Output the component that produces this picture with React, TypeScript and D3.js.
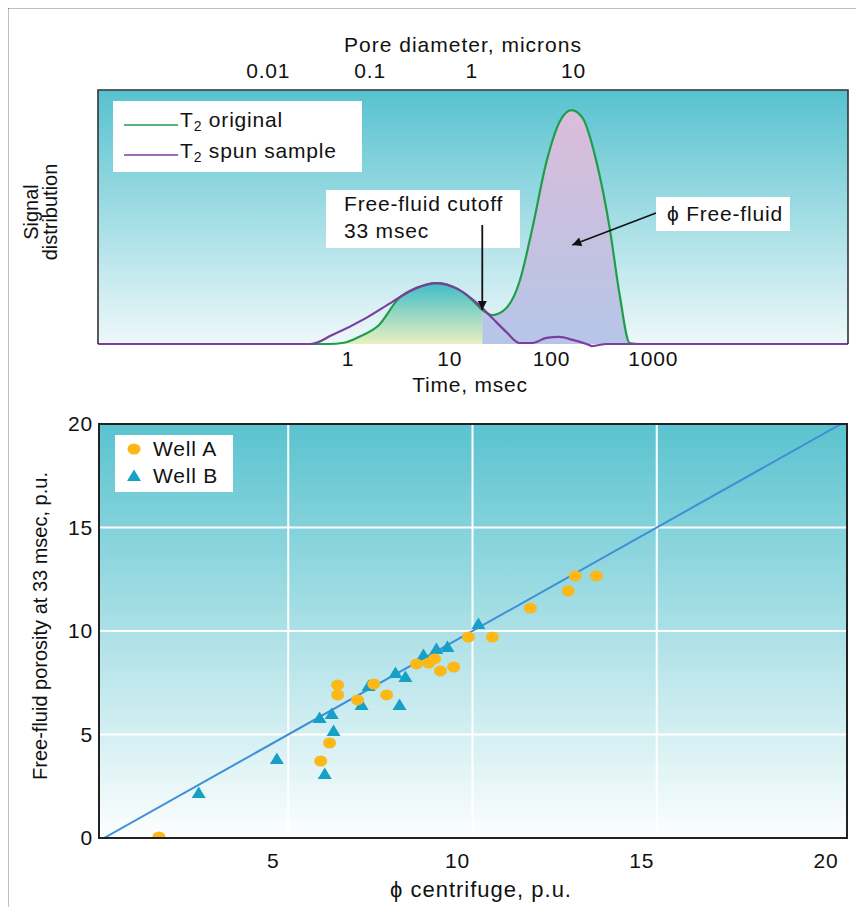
import * as d3 from "d3";

// T2 distributions (time in msec, signal as share of panel height)
const originalTime = [0.0035, 0.65, 0.91, 1.28, 2.02, 3.18, 4.67, 7.36, 11.6, 16.7, 20.9, 26.2, 36.1, 48.4, 65, 89.3, 120, 157, 202, 277, 373, 468, 587, 736, 82000];
const originalSignal = [0, 0, 0.005, 0.028, 0.075, 0.181, 0.22, 0.24, 0.22, 0.173, 0.134, 0.114, 0.142, 0.244, 0.457, 0.717, 0.874, 0.921, 0.89, 0.717, 0.457, 0.193, 0.004, 0, 0];
const spunTime = [0.0035, 0.43, 0.7, 1.5, 2.71, 4.67, 7.53, 12.4, 19.5, 26.2, 36.1, 48.4, 65, 89.3, 120, 162, 221, 250, 348, 82000];
const spunSignal = [0, 0, 0.035, 0.102, 0.165, 0.22, 0.24, 0.213, 0.153, 0.102, 0.047, 0.004, 0.004, 0.024, 0.028, 0.016, 0, -0.008, 0, 0];
const cutoffTime = 20.9;
const timeTicks = [1, 10, 100, 1000];
const poreTicks = [0.01, 0.1, 1, 10];
const msecPerMicron = 16.5;

// lower panel: centrifuge vs NMR free-fluid porosity
const wellAX = [12.79, 13.36, 12.6, 11.57, 9.89, 10.54, 8.48, 8.81, 8.97, 9.13, 9.49, 6.34, 6.34, 7.32, 7.67, 6.88, 6.12, 5.88, 1.49];
const wellAY = [12.66, 12.66, 11.93, 11.11, 9.71, 9.71, 8.41, 8.45, 8.65, 8.07, 8.26, 7.39, 6.91, 7.44, 6.91, 6.67, 4.59, 3.72, 0.05];
const wellBX = [10.16, 8.67, 9.02, 9.32, 7.91, 8.18, 7.18, 6.99, 8.02, 5.85, 6.18, 6.23, 5.99, 4.69, 2.57];
const wellBY = [10.34, 8.84, 9.13, 9.23, 7.97, 7.78, 7.34, 6.43, 6.43, 5.8, 5.99, 5.17, 3.09, 3.82, 2.17];
const scatterTicks = [0, 5, 10, 15, 20];

const font = "'Liberation Sans', Arial, Helvetica, sans-serif";

export default function App() {
  // upper panel
  const top = { left: 98, right: 848, top: 90, bottom: 344 };
  const x = d3.scaleLog().domain([0.0035, 82000]).range([top.left, top.right]);
  const y = d3.scaleLinear().domain([0, 1]).range([top.bottom, top.top]);
  const original = originalTime.map((t, i) => [t, originalSignal[i]] as [number, number]);
  const spun = spunTime.map((t, i) => [t, spunSignal[i]] as [number, number]);
  const line = d3
    .line<[number, number]>()
    .x((d) => x(d[0]))
    .y((d) => y(d[1]))
    .curve(d3.curveMonotoneX);
  const area = d3
    .area<[number, number]>()
    .x((d) => x(d[0]))
    .y0(y(0))
    .y1((d) => y(d[1]))
    .curve(d3.curveMonotoneX);
  const xc = x(cutoffTime);
  const cutoffSignal = originalSignal[originalTime.indexOf(cutoffTime)];

  // lower panel
  const bot = { left: 99, right: 847, top: 424, bottom: 838 };
  const sx = d3.scaleLinear().domain([0, 20]).range([104, 841]);
  const sy = d3.scaleLinear().domain([0, 20]).range([838, 424]);
  const triangle = "M0,-6.5L7,5L-7,5Z";

  // most labels are a touch wide in the original
  const lbl = { fontSize: 21, letterSpacing: 0.8, fill: "#111" };

  return (
    <svg width={864} height={915} style={{ display: "block", margin: "-8px" }} fontFamily={font}>
      <defs>
        <linearGradient id="bgTop" x1="0" y1={top.top} x2="0" y2={top.bottom} gradientUnits="userSpaceOnUse">
          <stop offset="0" stopColor="#57c2cf" />
          <stop offset="1" stopColor="#eef8fa" />
        </linearGradient>
        <linearGradient id="bgBot" x1="0" y1={bot.top} x2="0" y2={bot.bottom} gradientUnits="userSpaceOnUse">
          <stop offset="0" stopColor="#5ac3cf" />
          <stop offset="1" stopColor="#fdfefe" />
        </linearGradient>
        <linearGradient id="fillLeft" x1="0" y1={y(0.24)} x2="0" y2={y(0)} gradientUnits="userSpaceOnUse">
          <stop offset="0" stopColor="#3fbdc9" />
          <stop offset="1" stopColor="#eaf0bf" />
        </linearGradient>
        <linearGradient id="fillRight" x1="0" y1={y(0.92)} x2="0" y2={y(0)} gradientUnits="userSpaceOnUse">
          <stop offset="0" stopColor="#dbbddb" />
          <stop offset="0.5" stopColor="#c8c0e0" />
          <stop offset="1" stopColor="#b6c6e8" />
        </linearGradient>
        <clipPath id="clipTop">
          <rect x={top.left} y={top.top} width={top.right - top.left} height={top.bottom - top.top + 4} />
        </clipPath>
        <clipPath id="clipLeft">
          <rect x={top.left} y={top.top} width={xc - top.left} height={top.bottom - top.top} />
        </clipPath>
        <clipPath id="clipRight">
          <rect x={xc} y={top.top} width={top.right - xc} height={top.bottom - top.top} />
        </clipPath>
        <clipPath id="clipBot">
          <rect x={bot.left} y={bot.top} width={bot.right - bot.left} height={bot.bottom - bot.top} />
        </clipPath>
        <marker id="arrow" viewBox="0 0 10 10" refX="10" refY="5" markerWidth="13" markerHeight="9" markerUnits="userSpaceOnUse" orient="auto">
          <path d="M0,0L10,5L0,10Z" fill="#111" />
        </marker>
      </defs>

      <rect x={7} y={7} width={854} height={920} fill="#fff" stroke="#000" strokeWidth={2.5} />

      {/* upper panel */}
      <text x={463} y={52} textAnchor="middle" {...lbl} letterSpacing={1}>Pore diameter, microns</text>
      {poreTicks.map((d) => (
        <text key={d} x={x(d * msecPerMicron)} y={78} textAnchor="middle" {...lbl}>{d}</text>
      ))}
      <rect x={top.left} y={top.top} width={top.right - top.left} height={top.bottom - top.top} fill="url(#bgTop)" />
      <path d={area(original) ?? ""} fill="url(#fillLeft)" clipPath="url(#clipLeft)" />
      <path d={area(original) ?? ""} fill="url(#fillRight)" clipPath="url(#clipRight)" />
      <g clipPath="url(#clipTop)">
        <path d={line(original) ?? ""} fill="none" stroke="#1f9e4a" strokeWidth={2.2} />
        <path d={line(spun) ?? ""} fill="none" stroke="#7b3d9e" strokeWidth={2.2} />
      </g>
      <path d={`M${top.left},${top.bottom}V${top.top}H${top.right}V${top.bottom}`} fill="none" stroke="#333" strokeWidth={1.6} />

      <rect x={113} y={101} width={249} height={71} fill="#fff" />
      <line x1={124} x2={178} y1={125} y2={125} stroke="#1f9e4a" strokeWidth={1.6} />
      <line x1={124} x2={178} y1={155} y2={155} stroke="#7b3d9e" strokeWidth={1.6} />
      <text x={180} y={127} {...lbl}>
        T<tspan fontSize={14} dy={4}>2</tspan><tspan dy={-4}> original</tspan>
      </text>
      <text x={180} y={158} {...lbl}>
        T<tspan fontSize={14} dy={4}>2</tspan><tspan dy={-4}> spun sample</tspan>
      </text>

      <rect x={326} y={190} width={194} height={58} fill="#fff" />
      <text x={344} y={211} {...lbl}>Free-fluid cutoff</text>
      <text x={344} y={238} {...lbl}>33 msec</text>
      <line x1={xc} x2={xc} y1={225} y2={y(cutoffSignal)} stroke="#111" strokeWidth={1.8} markerEnd="url(#arrow)" />

      <rect x={656} y={197} width={134} height={34} fill="#fff" />
      <text x={667} y={221} {...lbl}>ϕ Free-fluid</text>
      <line x1={656} y1={213} x2={x(160)} y2={y(0.39)} stroke="#111" strokeWidth={1.5} markerEnd="url(#arrow)" />

      {timeTicks.map((t) => (
        <text key={t} x={x(t)} y={366} textAnchor="middle" {...lbl}>{t}</text>
      ))}
      <text x={470} y={392} textAnchor="middle" {...lbl}>Time, msec</text>
      <text transform="translate(38,212) rotate(-90)" textAnchor="middle" fontSize={20} fill="#111">Signal</text>
      <text transform="translate(57,212) rotate(-90)" textAnchor="middle" fontSize={20} fill="#111">distribution</text>

      {/* lower panel */}
      <rect x={bot.left} y={bot.top} width={bot.right - bot.left} height={bot.bottom - bot.top} fill="url(#bgBot)" />
      {scatterTicks.slice(1, 4).map((v) => (
        <g key={v}>
          <line x1={sx(v)} x2={sx(v)} y1={bot.top} y2={bot.bottom} stroke="#fff" strokeWidth={2} />
          <line x1={bot.left} x2={bot.right} y1={sy(v)} y2={sy(v)} stroke="#fff" strokeWidth={2} />
        </g>
      ))}
      <g clipPath="url(#clipBot)">
        <line x1={sx(0)} y1={sy(0)} x2={sx(20)} y2={sy(20)} stroke="#3f8fd6" strokeWidth={2} />
        {wellBX.map((v, i) => (
          <path key={"b" + i} d={triangle} transform={`translate(${sx(v)},${sy(wellBY[i])})`} fill="#17a0c6" />
        ))}
        {wellAX.map((v, i) => (
          <ellipse key={"a" + i} cx={sx(v)} cy={sy(wellAY[i])} rx={6.5} ry={5.5} fill="#fbb818" />
        ))}
      </g>
      <rect x={bot.left} y={bot.top} width={bot.right - bot.left} height={bot.bottom - bot.top} fill="none" stroke="#222" strokeWidth={2} />

      <rect x={115} y={435} width={118} height={57} fill="#fff" />
      <ellipse cx={134} cy={449} rx={6.5} ry={5.5} fill="#fbb818" />
      <path d={triangle} transform="translate(134,476)" fill="#17a0c6" />
      <text x={153} y={456} {...lbl}>Well A</text>
      <text x={153} y={483} {...lbl}>Well B</text>

      {scatterTicks.map((v) => (
        <text key={"y" + v} x={93} y={sy(v) + 7} textAnchor="end" {...lbl}>{v}</text>
      ))}
      {scatterTicks.slice(1).map((v) => (
        <text key={"x" + v} x={sx(v) - 15} y={868} textAnchor="middle" {...lbl}>{v}</text>
      ))}
      <text x={481} y={897} textAnchor="middle" fontSize={22} letterSpacing={1} fill="#111">ϕ centrifuge, p.u.</text>
      <text transform="translate(47,626) rotate(-90)" textAnchor="middle" fontSize={20} fill="#111">Free-fluid porosity at 33 msec, p.u.</text>
    </svg>
  );
}
